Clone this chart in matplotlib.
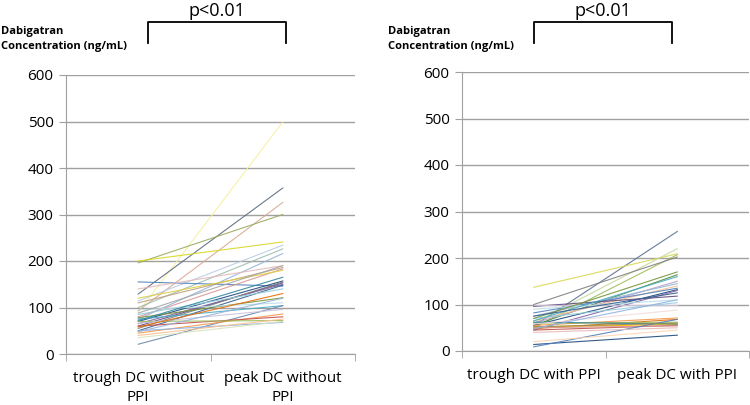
import matplotlib
matplotlib.use("Agg")
import matplotlib.pyplot as plt

plt.rcParams['font.family'] = ['Open Sans', 'DejaVu Sans']

categories_left = ["trough DC without\nPPI", "peak DC without\nPPI"]
categories_right = ["trough DC with PPI", "peak DC with PPI"]
y_ticks = [0, 100, 200, 300, 400, 500, 600]
ylabel_text = "Dabigatran\nConcentration (ng/mL)"
p_text = "p<0.01"

trough_no_ppi = [90, 129, 93, 196, 200, 114, 100, 75, 155, 140, 110, 80, 120, 70, 60, 65, 50,
                 55, 85, 78, 75, 21, 45, 60, 70, 50, 40, 95, 66, 48, 72, 58, 88, 35]
peak_no_ppi = [499, 357, 326, 300, 241, 234, 226, 216, 146, 190, 186, 183, 180, 157, 153, 150, 148,
               155, 140, 121, 104, 104, 86, 80, 72, 68, 75, 110, 96, 120, 165, 130, 190, 70]
colors_no_ppi = ["#f5f0a0", "#5a6a7a", "#d8a890", "#9aaa60", "#d8d820", "#b8cce4", "#9cbcb0",
                 "#95b3d7", "#4f81bd", "#e6b9b8", "#c0a080", "#d99694", "#e0d040", "#1f497d",
                 "#604a7b", "#8064a2", "#376092", "#7f7f7f", "#93cddd", "#77933c", "#4bacc6",
                 "#6b88a8", "#f79646", "#c0504d", "#9bbb59", "#8db3e2", "#fac090", "#b7dee8",
                 "#ccc1da", "#95b3d7", "#31859c", "#e46c0a", "#a6a6a6", "#d7e4bd"]

trough_ppi = [54, 137, 60, 50, 100, 55, 60, 75, 65, 82, 55, 45, 96, 70, 100, 55, 48, 50, 52, 45,
              60, 50, 62, 14, 9, 40, 20, 90, 58, 70, 65, 52, 48, 75]
peak_ppi = [257, 209, 220, 207, 202, 164, 150, 145, 140, 135, 132, 130, 118, 104, 100, 71, 68, 60,
            57, 55, 62, 54, 58, 34, 68, 50, 45, 110, 88, 170, 160, 60, 110, 125]
colors_ppi = ["#5a6e90", "#d8d850", "#c4d79b", "#9bbb59", "#7f7f7f", "#4f8a3c", "#b3a2c7",
              "#95b3d7", "#fac090", "#4f81bd", "#1f497d", "#8064a2", "#604a7b", "#93cddd",
              "#ccc1da", "#f79646", "#e46c0a", "#fac090", "#ffc000", "#c0504d", "#9bbb59",
              "#d99694", "#31859c", "#1f497d", "#4f81bd", "#e6b9b8", "#fcd5b4", "#b7dee8",
              "#f2dcdb", "#76933c", "#4bacc6", "#948a54", "#8db3e2", "#366092"]

fig = plt.figure(figsize=(7.5, 4.05), dpi=100)
ax1 = fig.add_axes([66/750, 1-354/405, (355-66)/750, (354-75)/405])
ax2 = fig.add_axes([462/750, 1-351/405, (749-462)/750, (351-72)/405])

grid_c = "#a0a0a0"

def setup(ax, troughs, peaks, colors, cats):
    for t, p, c in zip(troughs, peaks, colors):
        ax.plot([0, 1], [t, p], color=c, lw=0.8, alpha=0.9, zorder=3)
    ax.set_xlim(-0.5, 1.5)
    ax.set_ylim(0, 600)
    ax.set_yticks(y_ticks)
    ax.set_yticklabels([str(v) for v in y_ticks], fontsize=11)
    ax.yaxis.grid(True, color=grid_c, lw=1.0)
    ax.set_axisbelow(True)
    ax.set_xticks([0, 1])
    ax.set_xticklabels(cats, fontsize=11, linespacing=1.4)
    ax.tick_params(axis='x', which='major', length=0, pad=12)
    ax.set_xticks([-0.5, 0.5, 1.5], minor=True)
    ax.tick_params(axis='x', which='minor', length=5, color=grid_c, direction='out')
    ax.tick_params(axis='y', length=5, color=grid_c, pad=4)
    for s in ['top', 'right']:
        ax.spines[s].set_visible(False)
    for s in ['left', 'bottom']:
        ax.spines[s].set_color(grid_c)

setup(ax1, trough_no_ppi, peak_no_ppi, colors_no_ppi, categories_left)
setup(ax2, trough_ppi, peak_ppi, colors_ppi, categories_right)

def bracket(x0, x1, ylab_x):
    fig.add_artist(plt.Line2D([x0/750, x0/750, x1/750, x1/750],
                              [1-43/405, 1-22/405, 1-22/405, 1-43/405],
                              color="black", lw=1.3))
    fig.text((x0+x1)/2/750, 1-11/405, p_text, ha='center', va='center', fontsize=13)
    fig.text(ylab_x/750, 1-39/405, ylabel_text, ha='left', va='center', fontsize=8,
             fontweight='bold', linespacing=1.55)

bracket(148, 286, 1)
bracket(534, 672, 388)

fig.savefig("out.png", dpi=100)
